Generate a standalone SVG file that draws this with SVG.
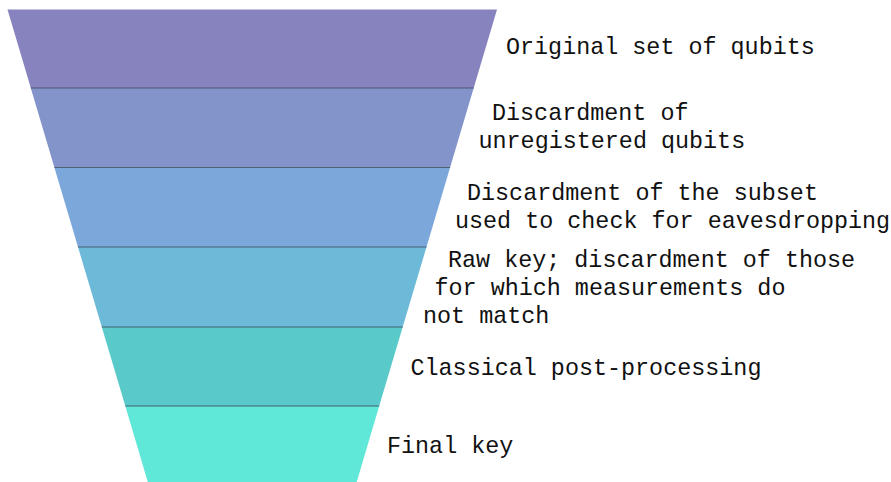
<svg xmlns="http://www.w3.org/2000/svg" width="891" height="482" viewBox="0 0 891 482">
<style>
.lbl{font-family:"Liberation Mono","Courier New",monospace;font-size:23.4px;fill:#111;white-space:pre}
.sep{stroke:#3c4a5a;stroke-width:1.2;stroke-opacity:0.8}
</style>
<rect width="891" height="482" fill="#ffffff"/>
<g id="stage1">
<polygon points="7.5,9.5 497,9.5 473.7,88 30.8,88" fill="#8683BF"/>
<text class="lbl" x="506" y="54">Original set of qubits</text>
</g>
<g id="stage2">
<polygon points="30.8,88 473.7,88 450.1,167.5 54.4,167.5" fill="#8394CB"/>
<text class="lbl" x="492" y="119.5">Discardment of</text>
<text class="lbl" x="478.5" y="148">unregistered qubits</text>
</g>
<g id="stage3">
<polygon points="54.4,167.5 450.1,167.5 426.5,247 78,247" fill="#7CA7DB"/>
<text class="lbl" x="467" y="199.5">Discardment of the subset</text>
<text class="lbl" x="455" y="228.3">used to check for eavesdropping</text>
</g>
<g id="stage4">
<polygon points="78,247 426.5,247 402.7,327 101.8,327" fill="#6DBAD8"/>
<text class="lbl" x="448" y="266.7">Raw key; discardment of those</text>
<text class="lbl" x="434.5" y="295">for which measurements do</text>
<text class="lbl" x="423" y="322.7">not match</text>
</g>
<g id="stage5">
<polygon points="101.8,327 402.7,327 379.2,406 125.3,406" fill="#59C9CA"/>
<text class="lbl" x="410.5" y="375">Classical post-processing</text>
</g>
<g id="stage6">
<polygon points="125.3,406 379.2,406 356.7,482 147.8,482" fill="#5FE7D8"/>
<text class="lbl" x="387" y="453">Final key</text>
</g>
<g id="separators">
<line class="sep" x1="30.8" y1="88" x2="473.7" y2="88"/>
<line class="sep" x1="54.4" y1="167.5" x2="450.1" y2="167.5"/>
<line class="sep" x1="78" y1="247" x2="426.5" y2="247"/>
<line class="sep" x1="101.8" y1="327" x2="402.7" y2="327"/>
<line class="sep" x1="125.3" y1="406" x2="379.2" y2="406"/>
</g>
</svg>
